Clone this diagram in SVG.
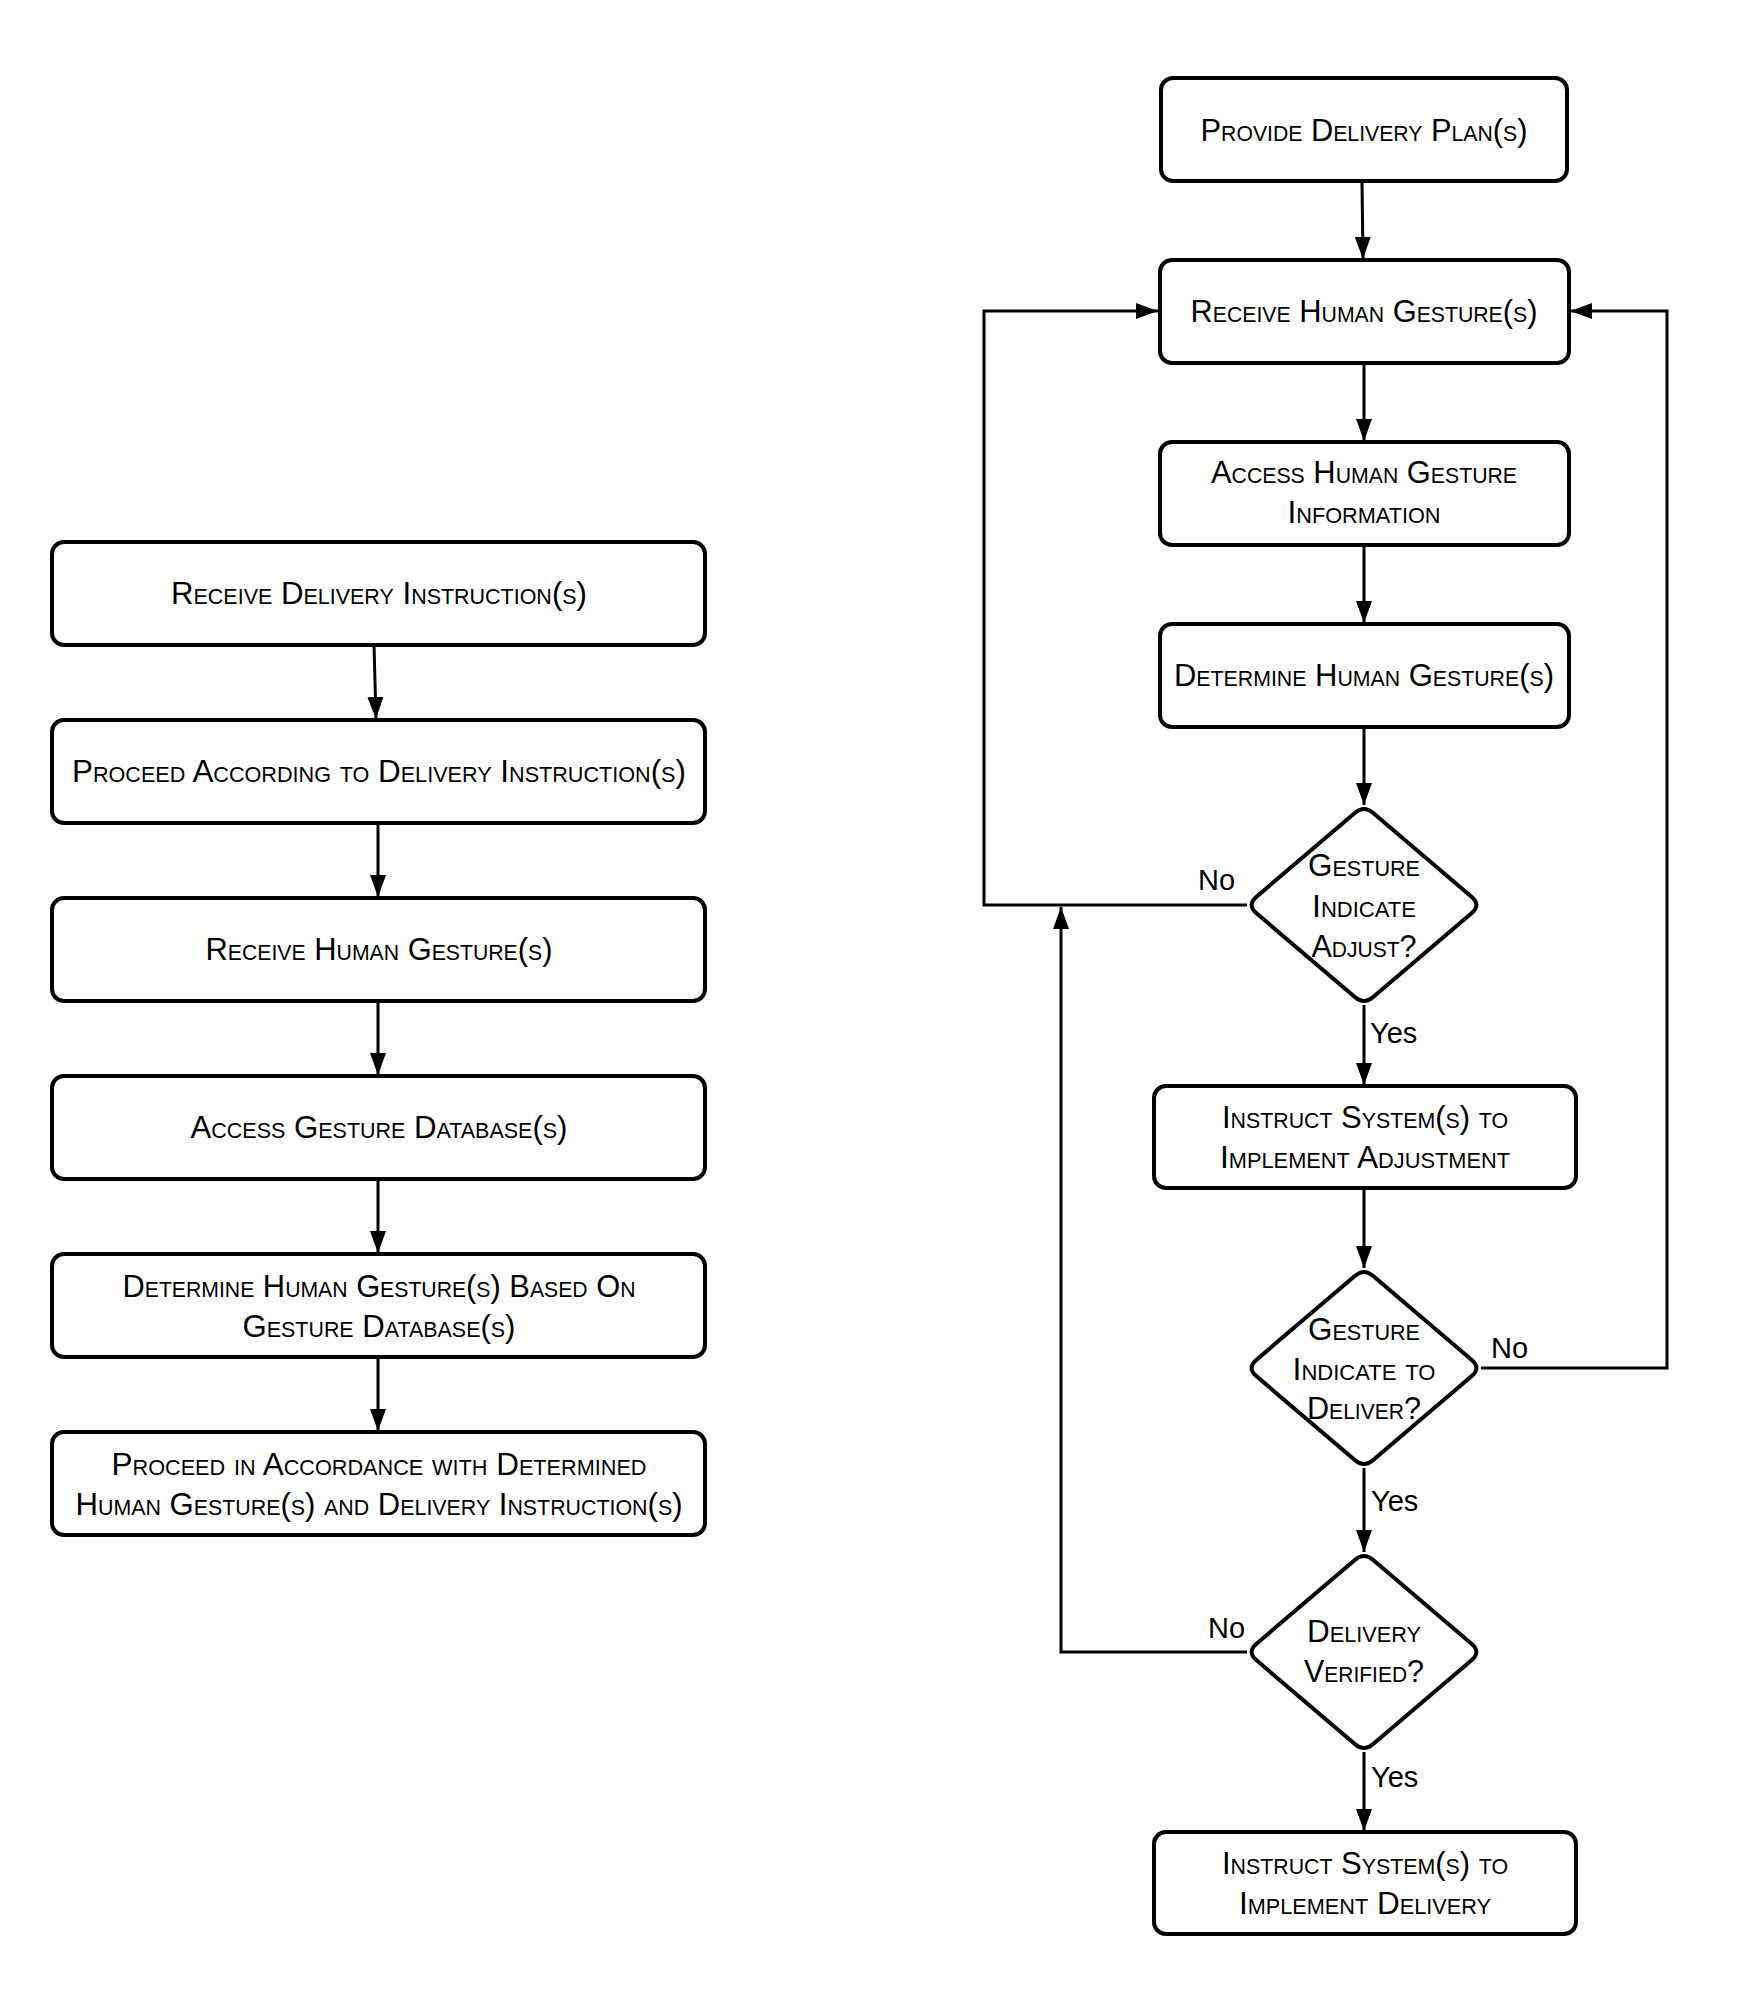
<svg xmlns="http://www.w3.org/2000/svg" width="1748" height="2016" viewBox="0 0 1748 2016">
<style>
.box{fill:#fff;stroke:#000;stroke-width:4}
.dia{fill:#fff;stroke:#000;stroke-width:4;stroke-linejoin:round}
.t{font-family:"Liberation Sans",Arial,sans-serif;font-size:32px;font-variant:small-caps;text-anchor:middle;fill:#000}
.lbl{font-family:"Liberation Sans",Arial,sans-serif;font-size:29px;fill:#000}
.c{fill:none;stroke:#000;stroke-width:3}
</style>
<defs>
<marker id="ah" markerUnits="userSpaceOnUse" markerWidth="22" markerHeight="16" refX="22" refY="8" orient="auto">
<path d="M0,0 L22,8 L0,16 z" fill="#000"/>
</marker>
<path id="dshape" d="M 9.2 -92 L 107.8 -8 Q 117 0 107.8 8 L 9.2 92 Q 0 100 -9.2 92 L -107.8 8 Q -117 0 -107.8 -8 L -9.2 -92 Q 0 -100 9.2 -92 Z"/>
</defs>
<rect width="1748" height="2016" fill="#fff"/>

<g id="connectors">
<line class="c" x1="374" y1="645" x2="376" y2="719" marker-end="url(#ah)"/>
<line class="c" x1="378" y1="823" x2="378" y2="897" marker-end="url(#ah)"/>
<line class="c" x1="378" y1="1001" x2="378" y2="1075" marker-end="url(#ah)"/>
<line class="c" x1="378" y1="1179" x2="378" y2="1253" marker-end="url(#ah)"/>
<line class="c" x1="378" y1="1357" x2="378" y2="1431" marker-end="url(#ah)"/>

<line class="c" x1="1362" y1="181" x2="1363" y2="259" marker-end="url(#ah)"/>
<line class="c" x1="1364" y1="363" x2="1364" y2="441" marker-end="url(#ah)"/>
<line class="c" x1="1364" y1="545" x2="1364" y2="623" marker-end="url(#ah)"/>
<line class="c" x1="1364" y1="727" x2="1364" y2="805" marker-end="url(#ah)"/>
<line class="c" x1="1364" y1="1005" x2="1364" y2="1085" marker-end="url(#ah)"/>
<line class="c" x1="1364" y1="1188" x2="1364" y2="1268" marker-end="url(#ah)"/>
<line class="c" x1="1364" y1="1468" x2="1364" y2="1552" marker-end="url(#ah)"/>
<line class="c" x1="1364" y1="1752" x2="1364" y2="1831" marker-end="url(#ah)"/>

<polyline class="c" points="1247,905 984,905 984,311 1158,311" marker-end="url(#ah)"/>
<polyline class="c" points="1481,1368 1667,1368 1667,311 1570,311" marker-end="url(#ah)"/>
<polyline class="c" points="1247,1652 1061,1652 1061,907" marker-end="url(#ah)"/>

<text class="lbl" x="1198" y="890">No</text>
<text class="lbl" x="1370" y="1043">Yes</text>
<text class="lbl" x="1491" y="1358">No</text>
<text class="lbl" x="1371" y="1511">Yes</text>
<text class="lbl" x="1208" y="1638">No</text>
<text class="lbl" x="1371" y="1787">Yes</text>
</g>

<g id="l1"><rect class="box" x="52" y="542" width="653" height="103" rx="12"/>
<text class="t" x="379" y="604" textLength="416" lengthAdjust="spacingAndGlyphs">Receive Delivery Instruction(s)</text></g>
<g id="l2"><rect class="box" x="52" y="720" width="653" height="103" rx="12"/>
<text class="t" x="379" y="782" textLength="614" lengthAdjust="spacingAndGlyphs">Proceed According to Delivery Instruction(s)</text></g>
<g id="l3"><rect class="box" x="52" y="898" width="653" height="103" rx="12"/>
<text class="t" x="379" y="960" textLength="347" lengthAdjust="spacingAndGlyphs">Receive Human Gesture(s)</text></g>
<g id="l4"><rect class="box" x="52" y="1076" width="653" height="103" rx="12"/>
<text class="t" x="379" y="1138" textLength="377" lengthAdjust="spacingAndGlyphs">Access Gesture Database(s)</text></g>
<g id="l5"><rect class="box" x="52" y="1254" width="653" height="103" rx="12"/>
<text class="t" x="379" y="1297" textLength="513" lengthAdjust="spacingAndGlyphs">Determine Human Gesture(s) Based On</text>
<text class="t" x="379" y="1337" textLength="273" lengthAdjust="spacingAndGlyphs">Gesture Database(s)</text></g>
<g id="l6"><rect class="box" x="52" y="1432" width="653" height="103" rx="12"/>
<text class="t" x="379" y="1475" textLength="535" lengthAdjust="spacingAndGlyphs">Proceed in Accordance with Determined</text>
<text class="t" x="379" y="1515" textLength="607" lengthAdjust="spacingAndGlyphs">Human Gesture(s) and Delivery Instruction(s)</text></g>

<g id="r1"><rect class="box" x="1161" y="78" width="406" height="103" rx="12"/>
<text class="t" x="1364" y="141" textLength="327" lengthAdjust="spacingAndGlyphs">Provide Delivery Plan(s)</text></g>
<g id="r2"><rect class="box" x="1160" y="260" width="409" height="103" rx="12"/>
<text class="t" x="1364" y="322" textLength="347" lengthAdjust="spacingAndGlyphs">Receive Human Gesture(s)</text></g>
<g id="r3"><rect class="box" x="1160" y="442" width="409" height="103" rx="12"/>
<text class="t" x="1364" y="483" textLength="306" lengthAdjust="spacingAndGlyphs">Access Human Gesture</text>
<text class="t" x="1364" y="523" textLength="153" lengthAdjust="spacingAndGlyphs">Information</text></g>
<g id="r4"><rect class="box" x="1160" y="624" width="409" height="103" rx="12"/>
<text class="t" x="1364" y="686" textLength="380" lengthAdjust="spacingAndGlyphs">Determine Human Gesture(s)</text></g>
<g id="d1"><use href="#dshape" class="dia" x="1364" y="905"/>
<text class="t" x="1364" y="876" textLength="112" lengthAdjust="spacingAndGlyphs">Gesture</text>
<text class="t" x="1364" y="917" textLength="104" lengthAdjust="spacingAndGlyphs">Indicate</text>
<text class="t" x="1364" y="957" textLength="105" lengthAdjust="spacingAndGlyphs">Adjust?</text></g>
<g id="r5"><rect class="box" x="1154" y="1086" width="422" height="102" rx="12"/>
<text class="t" x="1365" y="1128" textLength="286" lengthAdjust="spacingAndGlyphs">Instruct System(s) to</text>
<text class="t" x="1365" y="1168" textLength="290" lengthAdjust="spacingAndGlyphs">Implement Adjustment</text></g>
<g id="d2"><use href="#dshape" class="dia" x="1364" y="1368"/>
<text class="t" x="1364" y="1340" textLength="112" lengthAdjust="spacingAndGlyphs">Gesture</text>
<text class="t" x="1364" y="1380" textLength="143" lengthAdjust="spacingAndGlyphs">Indicate to</text>
<text class="t" x="1364" y="1419" textLength="114" lengthAdjust="spacingAndGlyphs">Deliver?</text></g>
<g id="d3"><use href="#dshape" class="dia" x="1364" y="1652"/>
<text class="t" x="1364" y="1642" textLength="114" lengthAdjust="spacingAndGlyphs">Delivery</text>
<text class="t" x="1364" y="1682" textLength="120" lengthAdjust="spacingAndGlyphs">Verified?</text></g>
<g id="r6"><rect class="box" x="1154" y="1832" width="422" height="102" rx="12"/>
<text class="t" x="1365" y="1874" textLength="286" lengthAdjust="spacingAndGlyphs">Instruct System(s) to</text>
<text class="t" x="1365" y="1914" textLength="252" lengthAdjust="spacingAndGlyphs">Implement Delivery</text></g>
</svg>
